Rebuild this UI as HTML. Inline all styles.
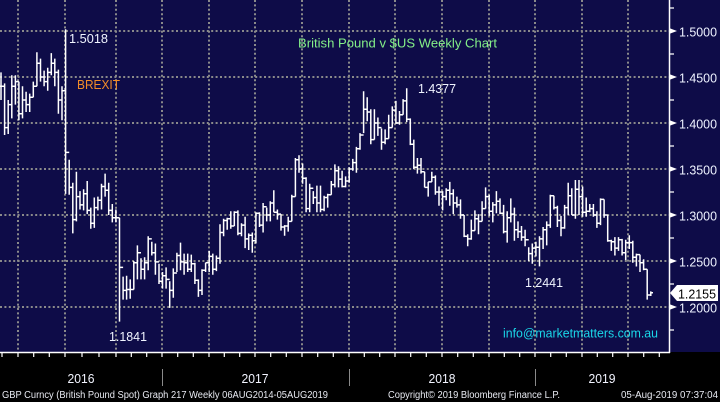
<!DOCTYPE html>
<html><head><meta charset="utf-8"><style>
html,body{margin:0;padding:0;background:#000;}
svg{display:block;}
text{font-family:"Liberation Sans",Arial,sans-serif;}
</style></head><body>
<svg id="s" width="720" height="402" viewBox="0 0 720 402" xmlns="http://www.w3.org/2000/svg">
<rect x="0" y="0" width="720" height="402" fill="#000"/>
<rect x="0" y="0" width="720" height="352" fill="#0e0c48"/>
<g stroke="#8a8a8a" stroke-width="2" stroke-dasharray="2 2.4">
<line x1="18" y1="0" x2="18" y2="352"/><line x1="65" y1="0" x2="65" y2="352"/><line x1="116" y1="0" x2="116" y2="352"/><line x1="162" y1="0" x2="162" y2="352"/><line x1="209" y1="0" x2="209" y2="352"/><line x1="255" y1="0" x2="255" y2="352"/><line x1="302" y1="0" x2="302" y2="352"/><line x1="349" y1="0" x2="349" y2="352"/><line x1="395" y1="0" x2="395" y2="352"/><line x1="442" y1="0" x2="442" y2="352"/><line x1="489" y1="0" x2="489" y2="352"/><line x1="535" y1="0" x2="535" y2="352"/><line x1="582" y1="0" x2="582" y2="352"/><line x1="628" y1="0" x2="628" y2="352"/>
<line x1="0" y1="31" x2="669" y2="31"/><line x1="0" y1="77" x2="669" y2="77"/><line x1="0" y1="123" x2="669" y2="123"/><line x1="0" y1="169" x2="669" y2="169"/><line x1="0" y1="215" x2="669" y2="215"/><line x1="0" y1="261" x2="669" y2="261"/><line x1="0" y1="307" x2="669" y2="307"/>
</g>
<path id="bp" d="" stroke="#fff" stroke-width="1.5" fill="none"/>
<!-- right axis -->
<line x1="669.5" y1="0" x2="669.5" y2="353" stroke="#fff" stroke-width="1.5"/>
<path d="M669 8H674M669 54H674M669 100H674M669 146H674M669 192H674M669 238H674M669 284H674M669 330H674" stroke="#fff" stroke-width="1.2"/>
<g fill="#fff">
<polygon points="669,28 677,31 669,34"/><polygon points="669,74 677,77 669,80"/><polygon points="669,120 677,123 669,126"/><polygon points="669,166 677,169 669,172"/><polygon points="669,212 677,215 669,218"/><polygon points="669,258 677,261 669,264"/><polygon points="669,304 677,307 669,310"/>
</g>
<g fill="#eef2ff" font-size="13">
<text x="679" y="36.5" textLength="38" lengthAdjust="spacingAndGlyphs">1.5000</text>
<text x="679" y="82.5" textLength="38" lengthAdjust="spacingAndGlyphs">1.4500</text>
<text x="679" y="128.5" textLength="38" lengthAdjust="spacingAndGlyphs">1.4000</text>
<text x="679" y="174.5" textLength="38" lengthAdjust="spacingAndGlyphs">1.3500</text>
<text x="679" y="220.5" textLength="38" lengthAdjust="spacingAndGlyphs">1.3000</text>
<text x="679" y="266.5" textLength="38" lengthAdjust="spacingAndGlyphs">1.2500</text>
<text x="679" y="312.5" textLength="38" lengthAdjust="spacingAndGlyphs">1.2000</text>
</g>
<polygon points="670,293 677,285 718,285 718,301 677,301" fill="#fff"/>
<text x="678" y="298.5" font-size="13" fill="#000" textLength="38" lengthAdjust="spacingAndGlyphs">1.2155</text>
<!-- bottom axis -->
<line x1="0" y1="352.5" x2="670" y2="352.5" stroke="#fff" stroke-width="1.5"/>
<path d="M2 352V357M18 352V357M33.7 352V357M49.3 352V357M65 352V357M82 352V357M99 352V357M116 352V357M131.3 352V357M146.7 352V357M162 352V357M177.7 352V357M193.3 352V357M209 352V357M224.3 352V357M239.7 352V357M255 352V357M270.7 352V357M286.3 352V357M302 352V357M317.7 352V357M333.3 352V357M349 352V357M364.3 352V357M379.7 352V357M395 352V357M410.7 352V357M426.3 352V357M442 352V357M457.7 352V357M473.3 352V357M489 352V357M504.3 352V357M519.7 352V357M535 352V357M550.7 352V357M566.3 352V357M582 352V357M597.3 352V357M612.7 352V357M628 352V357M643.7 352V357M659.3 352V357" stroke="#fff" stroke-width="1.2"/>
<g stroke="#8a8a8a" stroke-width="1">
<line x1="162.5" y1="369" x2="162.5" y2="386"/><line x1="349.5" y1="369" x2="349.5" y2="386"/><line x1="535.5" y1="369" x2="535.5" y2="386"/>
</g>
<g fill="#f2f4ff" font-size="13" text-anchor="middle">
<text x="81" y="383" textLength="27" lengthAdjust="spacingAndGlyphs">2016</text>
<text x="255" y="383" textLength="27" lengthAdjust="spacingAndGlyphs">2017</text>
<text x="442" y="383" textLength="27" lengthAdjust="spacingAndGlyphs">2018</text>
<text x="602" y="383" textLength="27" lengthAdjust="spacingAndGlyphs">2019</text>
</g>
<g fill="#e8eaf2" font-size="10">
<text x="2" y="398" textLength="326" lengthAdjust="spacingAndGlyphs">GBP Curncy (British Pound Spot) Graph 217  Weekly 06AUG2014-05AUG2019</text>
<text x="388" y="398" textLength="172" lengthAdjust="spacingAndGlyphs">Copyright© 2019 Bloomberg Finance L.P.</text>
<text x="621" y="398" textLength="97" lengthAdjust="spacingAndGlyphs">05-Aug-2019 07:37:04</text>
</g>
<!-- annotations -->
<g fill="#f0f4ff" font-size="13">
<text x="69" y="43" textLength="39" lengthAdjust="spacingAndGlyphs">1.5018</text>
<text x="418" y="93" textLength="38" lengthAdjust="spacingAndGlyphs">1.4377</text>
<text x="525" y="287" textLength="38" lengthAdjust="spacingAndGlyphs">1.2441</text>
<text x="109" y="341" textLength="38" lengthAdjust="spacingAndGlyphs">1.1841</text>
</g>
<text x="77" y="89" font-size="13" fill="#f28c28" textLength="43" lengthAdjust="spacingAndGlyphs">BREXIT</text>
<text x="298" y="47.5" font-size="13" fill="#84f088" textLength="199" lengthAdjust="spacingAndGlyphs">British Pound v $US Weekly Chart</text>
<text x="503" y="337.5" font-size="13" fill="#1ad6e8" textLength="155" lengthAdjust="spacingAndGlyphs">info@marketmatters.com.au</text>
</svg>
<script>
var D=[[1.455,1.425,1.440],[1.443,1.387,1.395],[1.425,1.388,1.420],[1.452,1.405,1.440],[1.452,1.420,1.445],[1.445,1.403,1.410],[1.440,1.405,1.425],[1.434,1.412,1.420],[1.432,1.412,1.428],[1.445,1.428,1.440],[1.477,1.440,1.465],[1.470,1.445,1.450],[1.457,1.440,1.445],[1.460,1.435,1.455],[1.476,1.452,1.465],[1.470,1.440,1.455],[1.458,1.410,1.425],[1.440,1.403,1.435],[1.5018,1.3229,1.368],[1.360,1.322,1.330],[1.335,1.280,1.295],[1.347,1.293,1.320],[1.326,1.306,1.311],[1.328,1.305,1.323],[1.337,1.301,1.305],[1.308,1.285,1.291],[1.319,1.286,1.308],[1.320,1.305,1.316],[1.334,1.306,1.331],[1.345,1.320,1.327],[1.335,1.300,1.305],[1.312,1.292,1.297],[1.306,1.292,1.297],[1.297,1.1841,1.243],[1.233,1.208,1.218],[1.234,1.208,1.219],[1.230,1.209,1.219],[1.250,1.219,1.248],[1.267,1.230,1.259],[1.253,1.230,1.241],[1.254,1.230,1.248],[1.277,1.240,1.274],[1.271,1.256,1.259],[1.269,1.235,1.249],[1.247,1.225,1.228],[1.238,1.220,1.234],
[1.243,1.220,1.230],[1.228,1.199,1.218],[1.242,1.210,1.237],[1.259,1.238,1.256],[1.270,1.240,1.249],[1.258,1.235,1.248],[1.258,1.238,1.241],[1.257,1.238,1.247],[1.248,1.225,1.229],[1.230,1.211,1.218],[1.241,1.213,1.240],[1.248,1.238,1.248],[1.261,1.238,1.255],[1.258,1.235,1.241],[1.256,1.239,1.253],[1.290,1.247,1.281],[1.296,1.277,1.294],[1.297,1.284,1.296],[1.304,1.285,1.288],[1.304,1.288,1.303],[1.305,1.278,1.280],[1.291,1.277,1.289],[1.298,1.264,1.274],[1.280,1.262,1.278],[1.281,1.259,1.272],[1.303,1.269,1.302],[1.303,1.287,1.289],[1.313,1.281,1.309],[1.308,1.293,1.300],[1.315,1.293,1.313],[1.327,1.303,1.303],[1.306,1.295,1.301],[1.301,1.283,1.287],[1.289,1.2775,1.288],[1.298,1.282,1.293],[1.322,1.293,1.320],[1.362,1.320,1.360],[1.365,1.346,1.350],[1.356,1.334,1.340],[1.341,1.303,1.307],[1.334,1.303,1.329],[1.326,1.312,1.319],[1.332,1.303,1.313],[1.332,1.303,1.306],[1.321,1.304,1.319],[1.323,1.308,1.322],[1.337,1.322,1.333],[1.355,1.330,1.348],[1.353,1.330,1.339],[1.348,1.330,1.331],[1.342,1.330,1.337],[1.352,1.335,1.350],
[1.361,1.348,1.357],[1.374,1.346,1.372],[1.389,1.371,1.387],[1.4345,1.389,1.415],[1.428,1.402,1.412],[1.415,1.377,1.382],[1.415,1.382,1.400],[1.406,1.386,1.395],[1.394,1.371,1.379],[1.393,1.377,1.383],[1.409,1.383,1.395],[1.418,1.395,1.414],[1.424,1.399,1.400],[1.413,1.398,1.409],[1.426,1.409,1.424],[1.4377,1.401,1.404],[1.405,1.376,1.377],[1.382,1.350,1.352],[1.362,1.345,1.354],[1.362,1.345,1.347],[1.347,1.330,1.330],[1.336,1.320,1.336],[1.347,1.336,1.341],[1.343,1.322,1.325],[1.331,1.310,1.325],[1.326,1.305,1.320],[1.329,1.316,1.327],[1.336,1.310,1.323],[1.328,1.301,1.313],[1.320,1.308,1.311],[1.317,1.296,1.300],[1.300,1.276,1.277],[1.279,1.266,1.274],[1.295,1.273,1.283],[1.305,1.283,1.296],[1.301,1.279,1.293],[1.315,1.293,1.307],[1.330,1.307,1.320],[1.322,1.299,1.304],[1.314,1.292,1.311],[1.326,1.302,1.315],[1.318,1.301,1.302],[1.311,1.280,1.282],[1.304,1.270,1.297],[1.318,1.292,1.301],[1.308,1.272,1.284],[1.293,1.275,1.282],[1.288,1.272,1.276],[1.284,1.266,1.273],[1.265,1.250,1.258],[1.269,1.247,1.264],[1.271,1.255,1.265],
[1.277,1.2441,1.274],[1.287,1.263,1.284],[1.293,1.267,1.289],[1.322,1.286,1.321],[1.321,1.306,1.308],[1.310,1.287,1.294],[1.299,1.277,1.286],[1.311,1.285,1.308],[1.335,1.300,1.321],[1.329,1.300,1.300],[1.338,1.296,1.328],[1.338,1.300,1.320],[1.331,1.298,1.303],[1.319,1.298,1.304],[1.312,1.303,1.307],[1.312,1.298,1.300],[1.304,1.286,1.291],[1.318,1.289,1.317],[1.317,1.297,1.300],[1.300,1.271,1.272],[1.273,1.261,1.271],[1.276,1.256,1.264],[1.276,1.261,1.273],[1.274,1.256,1.259],[1.273,1.251,1.270],[1.278,1.263,1.270],[1.272,1.248,1.254],[1.258,1.244,1.257],[1.257,1.238,1.248],[1.252,1.240,1.241],[1.241,1.208,1.213],[1.217,1.212,1.2155]];
(function(){
  function y(v){return (31+(1.5-v)*920).toFixed(1);}
  var p='',o=1.44;
  for(var i=0;i<D.length;i++){
    var d=D[i],x=1+i*3.59;
    var xs=x.toFixed(1),xl=(x-2.2).toFixed(1),xr=(x+2.2).toFixed(1);
    p+='M'+xs+' '+y(d[0])+'V'+y(d[1])+'M'+xl+' '+y(o)+'H'+xs+'M'+xs+' '+y(d[2])+'H'+xr;
    o=d[2];
  }
  document.getElementById('bp').setAttribute('d',p);
})();
</script>
</body></html>
